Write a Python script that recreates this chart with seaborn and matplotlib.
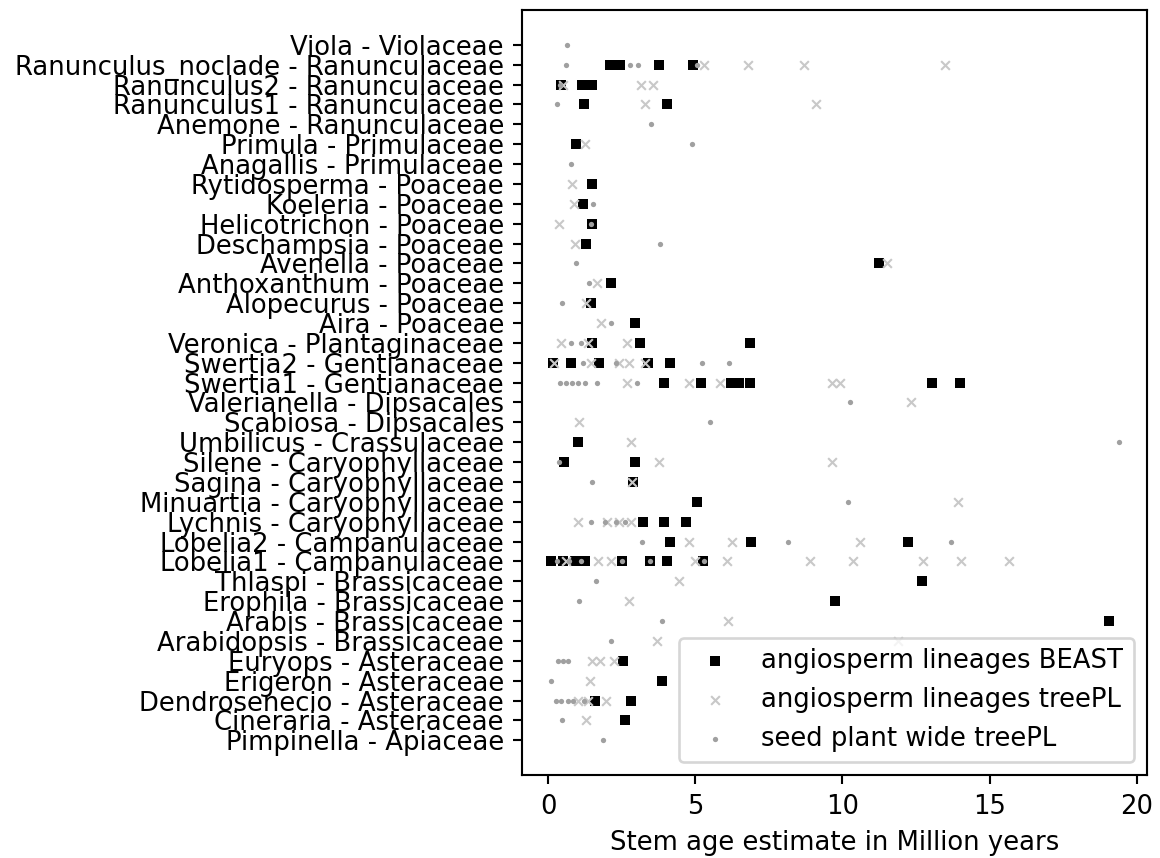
import matplotlib
matplotlib.use("Agg")
import matplotlib.pyplot as plt
import seaborn as sns

categories = [
    "Viola - Violaceae",
    "Ranunculus_noclade - Ranunculaceae",
    "Ranunculus2 - Ranunculaceae",
    "Ranunculus1 - Ranunculaceae",
    "Anemone - Ranunculaceae",
    "Primula - Primulaceae",
    "Anagallis - Primulaceae",
    "Rytidosperma - Poaceae",
    "Koeleria - Poaceae",
    "Helicotrichon - Poaceae",
    "Deschampsia - Poaceae",
    "Avenella - Poaceae",
    "Anthoxanthum - Poaceae",
    "Alopecurus - Poaceae",
    "Aira - Poaceae",
    "Veronica - Plantaginaceae",
    "Swertia2 - Gentianaceae",
    "Swertia1 - Gentianaceae",
    "Valerianella - Dipsacales",
    "Scabiosa - Dipsacales",
    "Umbilicus - Crassulaceae",
    "Silene - Caryophyllaceae",
    "Sagina - Caryophyllaceae",
    "Minuartia - Caryophyllaceae",
    "Lychnis - Caryophyllaceae",
    "Lobelia2 - Campanulaceae",
    "Lobelia1 - Campanulaceae",
    "Thlaspi - Brassicaceae",
    "Erophila - Brassicaceae",
    "Arabis - Brassicaceae",
    "Arabidopsis - Brassicaceae",
    "Euryops - Asteraceae",
    "Erigeron - Asteraceae",
    "Dendrosenecio - Asteraceae",
    "Cineraria - Asteraceae",
    "Pimpinella - Apiaceae",
]

# angiosperm lineages BEAST (genus -> stem ages)
beast_ages = {
    "Ranunculus_noclade": [2.1, 2.45, 3.75, 4.92],
    "Ranunculus2": [0.42, 1.15, 1.5],
    "Ranunculus1": [1.2, 4.05],
    "Primula": [0.93],
    "Rytidosperma": [1.5],
    "Koeleria": [1.18],
    "Helicotrichon": [1.5],
    "Deschampsia": [1.29],
    "Avenella": [11.25],
    "Anthoxanthum": [2.15],
    "Alopecurus": [1.45],
    "Aira": [2.95],
    "Veronica": [1.5, 3.12, 6.85],
    "Swertia2": [0.15, 0.76, 1.72, 3.38, 4.14],
    "Swertia1": [3.92, 5.2, 6.2, 6.5, 6.85, 13.03, 14.0],
    "Umbilicus": [1.0],
    "Silene": [0.55, 2.95],
    "Sagina": [2.88],
    "Minuartia": [5.04],
    "Lychnis": [3.22, 3.94, 4.68],
    "Lobelia2": [4.14, 6.9, 12.22],
    "Lobelia1": [0.1, 0.5, 0.9, 1.25, 2.5, 3.45, 4.05, 5.27],
    "Thlaspi": [12.7],
    "Erophila": [9.76],
    "Arabis": [19.07],
    "Euryops": [2.55],
    "Erigeron": [3.85],
    "Dendrosenecio": [1.58, 2.8],
    "Cineraria": [2.6],
}

# angiosperm lineages treePL
treepl_ages = {
    "Ranunculus_noclade": [5.28, 6.8, 8.7, 13.5],
    "Ranunculus2": [0.5, 3.15, 3.55],
    "Ranunculus1": [3.3, 9.1],
    "Primula": [1.25],
    "Rytidosperma": [0.8],
    "Koeleria": [0.86],
    "Helicotrichon": [0.38],
    "Deschampsia": [0.9],
    "Avenella": [11.5],
    "Anthoxanthum": [1.67],
    "Alopecurus": [1.29],
    "Aira": [1.78],
    "Veronica": [0.42, 1.35, 2.67],
    "Swertia2": [0.2, 1.46, 2.4, 2.75, 3.3],
    "Swertia1": [2.67, 4.79, 5.83, 9.65, 9.9],
    "Valerianella": [12.32],
    "Scabiosa": [1.04],
    "Umbilicus": [2.8],
    "Silene": [3.78, 9.65],
    "Sagina": [2.85],
    "Minuartia": [13.94],
    "Lychnis": [1.0, 2.0, 2.4, 2.83],
    "Lobelia2": [4.78, 6.23, 10.6],
    "Lobelia1": [0.6, 1.68, 2.15, 5.0, 6.06, 8.9, 10.35, 12.74, 14.03, 15.65],
    "Thlaspi": [4.44],
    "Erophila": [2.75],
    "Arabis": [6.12],
    "Arabidopsis": [3.7, 11.9],
    "Euryops": [1.5, 1.75, 2.25],
    "Erigeron": [1.42],
    "Dendrosenecio": [1.0, 1.35, 1.98],
    "Cineraria": [1.29],
}

# seed plant wide treePL
seed_ages = {
    "Viola": [0.65],
    "Ranunculus_noclade": [0.6, 2.78, 3.05, 5.05],
    "Ranunculus2": [0.4],
    "Ranunculus1": [0.3],
    "Anemone": [3.5],
    "Primula": [4.87],
    "Anagallis": [0.76],
    "Koeleria": [1.53],
    "Helicotrichon": [1.45],
    "Deschampsia": [3.79],
    "Avenella": [0.93],
    "Anthoxanthum": [1.39],
    "Alopecurus": [0.46],
    "Aira": [2.15],
    "Veronica": [0.76, 1.1],
    "Swertia2": [1.18, 2.3, 5.24, 6.14],
    "Swertia1": [0.4, 0.6, 0.8, 1.0, 1.25, 1.67, 3.0],
    "Valerianella": [10.25],
    "Scabiosa": [5.5],
    "Umbilicus": [19.4],
    "Silene": [0.35],
    "Sagina": [1.5],
    "Minuartia": [10.2],
    "Lychnis": [1.47, 1.93, 2.3, 2.6],
    "Lobelia2": [3.17, 8.15, 13.68],
    "Lobelia1": [0.3, 0.7, 1.1, 2.52, 3.46, 5.3],
    "Thlaspi": [1.61],
    "Erophila": [1.05],
    "Arabis": [3.85],
    "Arabidopsis": [2.15],
    "Euryops": [0.34, 0.5, 0.68],
    "Erigeron": [0.09],
    "Dendrosenecio": [0.28, 0.45, 0.67, 0.85, 1.2],
    "Cineraria": [0.46],
    "Pimpinella": [1.875],
}


def long_form(ages):
    xs, ys = [], []
    for cat in categories:
        genus = cat.split(" - ")[0]
        for v in ages.get(genus, []):
            xs.append(v)
            ys.append(cat)
    return xs, ys


DPI = 190
plt.rcParams["font.size"] = 9.8
fig, ax = plt.subplots(figsize=(1160 / DPI, 858 / DPI), dpi=DPI)
fig.subplots_adjust(left=0.4503, right=0.9885, bottom=0.0967, top=0.9883)

bx, by = long_form(beast_ages)
tx, ty = long_form(treepl_ages)
sx, sy = long_form(seed_ages)

sns.stripplot(x=bx, y=by, order=categories, orient="h", jitter=False,
              color="black", marker="s", size=3.9, linewidth=0, ax=ax,
              label="angiosperm lineages BEAST")
sns.stripplot(x=tx, y=ty, order=categories, orient="h", jitter=False,
              color="#c8c8c8", marker="x", size=3.3, linewidth=0.8, ax=ax,
              label="angiosperm lineages treePL")
sns.stripplot(x=sx, y=sy, order=categories, orient="h", jitter=False,
              color="#a0a0a0", marker="o", size=2.0, linewidth=0, ax=ax,
              label="seed plant wide treePL")

ax.set_xlim(-0.88, 20.34)
ax.set_ylim(len(categories) - 1 + 1.75, -1.75)
ax.set_xticks([0, 5, 10, 15, 20])
ax.set_xlabel("Stem age estimate in Million years")
ax.set_ylabel("")
for side in ["top", "right", "bottom", "left"]:
    ax.spines[side].set_visible(True)
    ax.spines[side].set_color("black")
ax.grid(False)

handles, labels = ax.get_legend_handles_labels()
seen = {}
for h, l in zip(handles, labels):
    if l not in seen:
        seen[l] = h
ax.legend(list(seen.values()), list(seen.keys()), loc="lower right")

fig.savefig("out.png", dpi=DPI)
